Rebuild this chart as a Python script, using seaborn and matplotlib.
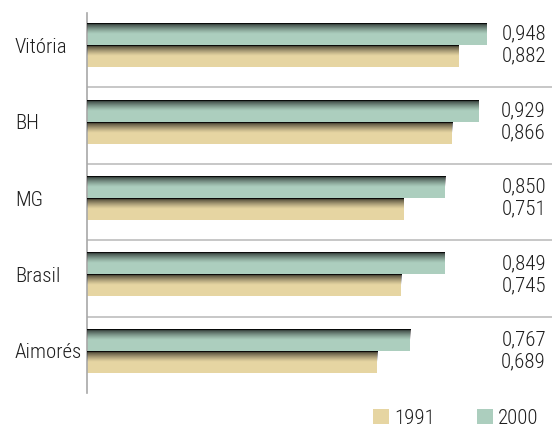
import numpy as np
import pandas as pd
import matplotlib
matplotlib.use("Agg")
import matplotlib.pyplot as plt
from matplotlib import font_manager
from matplotlib.patches import Patch
import seaborn as sns

categories = ["Vitória", "BH", "MG", "Brasil", "Aimorés"]
values_2000 = [0.948, 0.929, 0.850, 0.849, 0.767]
values_1991 = [0.882, 0.866, 0.751, 0.745, 0.689]
years = ["2000", "1991"]
value_labels_2000 = ["0,948", "0,929", "0,850", "0,849", "0,767"]
value_labels_1991 = ["0,882", "0,866", "0,751", "0,745", "0,689"]

GREEN = "#accebe"
YELLOW = "#e6d5a2"
TEXT = "#1e1e1e"
GRID = "#bdbdbd"
AXIS = "#a8a8a8"

df = pd.DataFrame({
    "cat": categories * 2,
    "ano": ["2000"] * len(categories) + ["1991"] * len(categories),
    "val": values_2000 + values_1991,
})

sns.set_style("white")
avail = {f.name for f in font_manager.fontManager.ttflist}
fam = [f for f in ["Roboto Condensed", "Archivo Narrow", "Liberation Sans", "DejaVu Sans"] if f in avail]
plt.rcParams["font.family"] = fam
plt.rcParams["font.weight"] = "light"
FS = 15

fig = plt.figure(figsize=(5.52, 4.26), dpi=100)
L, R, T, B = 87 / 552, 552 / 552, 13 / 426, 393 / 426
ax = fig.add_axes([L, 1 - B, R - L, B - T])

sns.barplot(data=df, y="cat", x="val", hue="ano", hue_order=years,
            palette=[GREEN, YELLOW], orient="h", width=0.575,
            errorbar=None, legend=False, ax=ax, saturation=1, linewidth=0)

xmax = 465 / 421.5
ylo, yhi = -0.42, 4.55
ax.set_xlim(0, xmax)
ax.set_ylim(yhi, ylo)

# gradient shading on top of each bar
n = 88
t = np.linspace(0, 1, n)
alpha = 0.72 * np.clip(1 - t / 0.5, 0, 1) ** 1.3
alpha[:4] = 1.0
grad = np.zeros((n, 2, 4))
grad[..., 3] = alpha[:, None]
for p in ax.patches:
    x0, y0 = p.get_x(), p.get_y()
    w, h = p.get_width(), p.get_height()
    ytop, ybot = min(y0, y0 + h), max(y0, y0 + h)
    ax.imshow(grad, extent=(x0, x0 + w, ybot, ytop), origin="upper",
              aspect="auto", interpolation="bilinear", zorder=3)
ax.set_xlim(0, xmax)
ax.set_ylim(yhi, ylo)

# separators
seps = [i + 0.55 for i in range(len(categories) - 1)]
for s in seps:
    ax.axhline(s, color=GRID, lw=1.2, zorder=1)

# value labels
xlab = (546 - 87) / 421.5
for i in range(len(categories)):
    ax.text(xlab, i - 0.575 / 4, value_labels_2000[i], ha="right", va="center",
            fontsize=FS, color=TEXT)
    ax.text(xlab, i + 0.575 / 4, value_labels_1991[i], ha="right", va="center",
            fontsize=FS, color=TEXT)

# axes styling
for side in ["top", "right", "bottom"]:
    ax.spines[side].set_visible(False)
ax.spines["left"].set_color(AXIS)
ax.spines["left"].set_linewidth(1.2)
ax.set_xticks([])
ax.set_xlabel("")
ax.set_ylabel("")
ax.set_yticks(range(len(categories)))
ax.set_yticklabels(categories, fontsize=FS, color=TEXT, ha="left")
ax.tick_params(axis="y", which="major", length=0, pad=(87 - 15) * 0.72)
ax.set_yticks([ylo] + seps + [yhi], minor=True)
ax.tick_params(axis="y", which="minor", length=4, width=1.2, color=AXIS)

handles = [Patch(facecolor=YELLOW, edgecolor="none", label="1991"),
           Patch(facecolor=GREEN, edgecolor="none", label="2000")]
fig.legend(handles=handles, loc="center left", bbox_to_anchor=(373 / 552, 1 - 418 / 426),
           ncol=2, frameon=False, fontsize=FS, handlelength=0.77, handleheight=0.7,
           handletextpad=0.25, columnspacing=2.0, borderpad=0, borderaxespad=0,
           labelcolor=TEXT)

fig.savefig("out.png", dpi=100, facecolor="white")
